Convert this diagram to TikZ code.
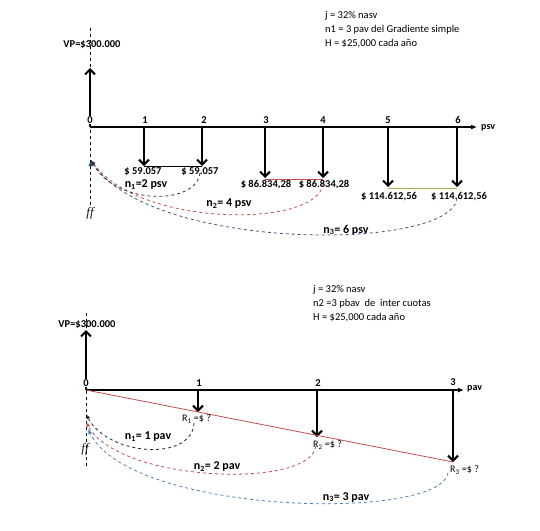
\documentclass[tikz,border=0pt]{standalone}
\usepackage{fontspec}
\setmainfont{Carlito}
\newfontfamily\fffont{Liberation Serif}
\usetikzlibrary{arrows.meta}
\definecolor{cred}{RGB}{192,80,77}
\definecolor{cblue}{RGB}{79,129,189}
\definecolor{cgreen}{RGB}{155,187,89}
\definecolor{ffgreen}{RGB}{20,40,20}
\tikzset{
  axisline/.style={line width=2pt,-{Latex[length=6pt,width=5pt]}},
  flowarrow/.style={line width=2.2pt,-{Straight Barb[length=5pt,width=10pt,line width=2pt]}},
  guide/.style={dashed,line width=0.7pt},
  arcline/.style={dashed,line width=0.8pt,-{Latex[length=5pt,width=4pt]}},
  tick/.style={font=\bfseries\fontsize{10.5}{11}\selectfont,inner sep=0pt},
  zerotick/.style={tick,fill=white,inner sep=0.3pt},
  amount/.style={font=\bfseries\fontsize{10.5}{11}\selectfont,inner sep=0pt},
  nlabel/.style={font=\bfseries\fontsize{12}{13}\selectfont,inner sep=0pt},
  info/.style={font=\fontsize{10.5}{14}\selectfont,align=left,inner sep=0pt,anchor=north west},
  fflabel/.style={font=\fffont\itshape\fontsize{13}{14}\selectfont,text=ffgreen,inner sep=0pt},
  rlabel/.style={font=\fontsize{10}{11}\selectfont,inner sep=0pt,anchor=west},
  vplabel/.style={font=\fontsize{10.5}{11}\selectfont\bfseries,inner sep=0pt},
  unitlabel/.style={font=\bfseries\fontsize{10}{11}\selectfont,anchor=west,inner sep=0pt}
}
\begin{document}
\begin{tikzpicture}[x=1pt,y=-1pt]
\useasboundingbox[fill=white] (0,0) rectangle (540,530);

% ===================== TOP DIAGRAM =====================
\node[info] (info1) at (325,11) {j = 32\% nasv\\n1 = 3 pav del Gradiente simple\\H = \$25,000 cada año};

\coordinate (gtop) at (90,28);
\coordinate (gbot) at (90,205);
\draw[guide] (gtop) -- (gbot);

\node[vplabel] (vp1) at (92,45) {VP=\$300.000};

\coordinate (a0) at (90,127);
\coordinate (vpt) at (90,68);
\draw[flowarrow] (a0) -- (vpt);

\coordinate (aend) at (477,127);
\draw[axisline] (a0) -- (aend);
\node[unitlabel] (psv) at (481,128) {psv};

\node[zerotick] (l0) at (90,120) {0};
\node[tick] (l1) at (145,120) {1};
\node[tick] (l2) at (204,120) {2};
\node[tick] (l3) at (266,120) {3};
\node[tick] (l4) at (323,120) {4};
\node[tick] (l5) at (388,120) {5};
\node[tick] (l6) at (458,120) {6};

\coordinate (s1) at (144,127); \coordinate (d1) at (144,166);
\coordinate (s2) at (202,127); \coordinate (d2) at (202,166);
\coordinate (s3) at (265,127); \coordinate (d3) at (265,178);
\coordinate (s4) at (323,127); \coordinate (d4) at (323,178);
\coordinate (s5) at (388,127); \coordinate (d5) at (388,187);
\coordinate (s6) at (457,127); \coordinate (d6) at (457,187);
\foreach \i in {1,...,6} {\draw[flowarrow] (s\i) -- (d\i);}

\draw[line width=0.8pt] (d1) -- (d2);
\draw[cred,line width=0.8pt] (265,179) -- (323,179);
\draw[cgreen,line width=0.9pt] (388,188) -- (457,188);

\node[amount] (m1) at (143,172) {\$ 59.057};
\node[amount] (m2) at (200,172) {\$ 59.057};
\node[amount] (m3) at (266,185) {\$ 86.834,28};
\node[amount] (m4) at (324,185) {\$ 86.834,28};
\node[amount] (m5) at (389,197) {\$ 114.612,56};
\node[amount] (m6) at (459,197) {\$ 114.612,56};

\node[nlabel] (n1) at (146,185) {n\textsubscript{1}=2 psv};
\node[nlabel] (n2) at (229,204) {n\textsubscript{2}= 4 psv};
\node[nlabel] (n3) at (346,230) {n\textsubscript{3}= 6 psv};

\node[fflabel] (ff1) at (90,213) {ff};

\coordinate (fft) at (91,160);
\draw[arcline,cblue!70!black] (457,198) .. controls (452,252) and (150,252) .. (fft);
\draw[arcline,cred] (323,184) .. controls (318,228) and (140,228) .. (fft);
\draw[arcline,black!80] (200,173) .. controls (196,206) and (115,205) .. (fft);
\fill[cblue!60!black] (fft) -- ++(-2.5,6) -- ++(5,0) -- cycle;

% ===================== BOTTOM DIAGRAM =====================
\node[info] (info2) at (313,285) {j = 32\% nasv\\n2 =3 pbav\ \ de\ \ inter cuotas\\H = \$25,000 cada año};

\coordinate (hg1) at (86,313);
\coordinate (hg2) at (86,468);
\draw[guide] (hg1) -- (hg2);

\node[vplabel] (vp2) at (87,325) {VP=\$300.000};

\coordinate (b0) at (86,390);
\coordinate (vpb) at (86,330);
\draw[flowarrow] (b0) -- (vpb);

\coordinate (bend) at (464,390);
\draw[axisline] (b0) -- (bend);
\node[unitlabel] (pav) at (467,389) {pav};

\node[zerotick] (k0) at (86,383) {0};
\node[tick] (k1) at (199,383) {1};
\node[tick] (k2) at (318,383) {2};
\node[tick] (k3) at (453,382) {3};

\coordinate (r1s) at (198,390); \coordinate (r1e) at (198,412);
\coordinate (r2s) at (317,390); \coordinate (r2e) at (317,437);
\coordinate (r3s) at (453,390); \coordinate (r3e) at (453,462);
\draw[flowarrow] (r1s) -- (r1e);
\draw[flowarrow] (r2s) -- (r2e);
\draw[flowarrow] (r3s) -- (r3e);

\draw[cred,line width=0.8pt] (b0) -- (r3e);

\node[rlabel] (R1) at (182,419) {R\textsubscript{1} =\$ ?};
\node[rlabel] (R2) at (313,445) {R\textsubscript{2} =\$ ?};
\node[rlabel] (R3) at (450,470) {R\textsubscript{3} =\$ ?};

\node[nlabel] (p1) at (148,437) {n\textsubscript{1}= 1 pav};
\node[nlabel] (p2) at (217,467) {n\textsubscript{2}= 2 pav};
\node[nlabel] (p3) at (346,497) {n\textsubscript{3}= 3 pav};

\node[fflabel] (ff2) at (85,449) {ff};

\coordinate (fb1) at (86,414);
\coordinate (fb2) at (86,422);
\coordinate (fb3) at (88,429);
\draw[arcline,cblue] (448,473) .. controls (440,522) and (130,515) .. (fb3);
\draw[arcline,cred] (316,446) .. controls (310,490) and (118,482) .. (fb2);
\draw[arcline,black!85] (194,423) .. controls (192,462) and (108,456) .. (fb1);
\end{tikzpicture}
\end{document}
